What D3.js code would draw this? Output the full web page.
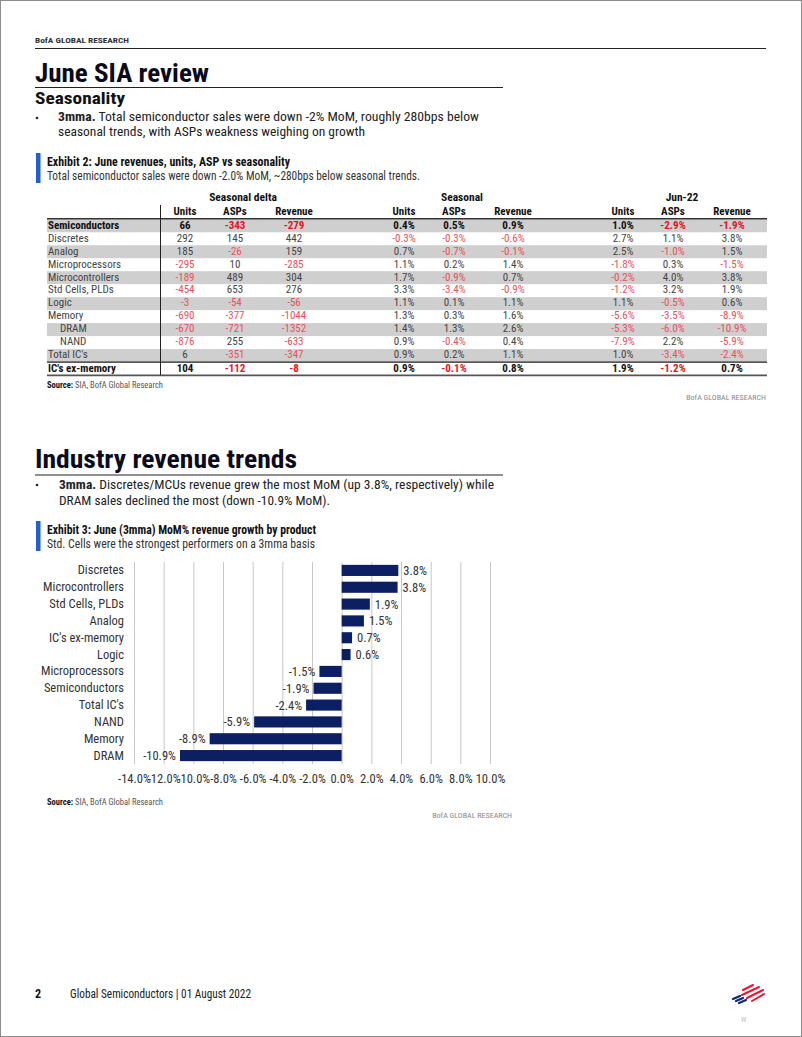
<!DOCTYPE html>
<html><head><meta charset="utf-8">
<script src="https://cdn.jsdelivr.net/npm/d3@7"></script>
<style>
body{margin:0;background:#fff}
svg{display:block}
text{font-family:"Liberation Sans Narrow","Arial Narrow","Roboto Condensed","Liberation Sans",sans-serif}
</style>
</head><body>
<svg id="page" width="802" height="1037"></svg>
<script>
// ---------- DATA ----------
const tableRows = ["Semiconductors","Discretes","Analog","Microprocessors","Microcontrollers","Std Cells, PLDs","Logic","Memory","DRAM","NAND","Total IC's","IC's ex-memory"];
const tableGroups = ["Seasonal delta","Seasonal","Jun-22"];
const tableColumns = ["Units","ASPs","Revenue"];
const deltaUnits   = [66, 292, 185, -295, -189, -454, -3, -690, -670, -876, 6, 104];
const deltaASPs    = [-343, 145, -26, 10, 489, 653, -54, -377, -721, 255, -351, -112];
const deltaRevenue = [-279, 442, 159, -285, 304, 276, -56, -1044, -1352, -633, -347, -8];
const seasUnits    = [0.4, -0.3, 0.7, 1.1, 1.7, 3.3, 1.1, 1.3, 1.4, 0.9, 0.9, 0.9];
const seasASPs     = [0.5, -0.3, -0.7, 0.2, -0.9, -3.4, 0.1, 0.3, 1.3, -0.4, 0.2, -0.1];
const seasRevenue  = [0.9, -0.6, -0.1, 1.4, 0.7, -0.9, 1.1, 1.6, 2.6, 0.4, 1.1, 0.8];
const junUnits     = [1.0, 2.7, 2.5, -1.8, -0.2, -1.2, 1.1, -5.6, -5.3, -7.9, 1.0, 1.9];
const junASPs      = [-2.9, 1.1, -1.0, 0.3, 4.0, 3.2, -0.5, -3.5, -6.0, 2.2, -3.4, -1.2];
const junRevenue   = [-1.9, 3.8, 1.5, -1.5, 3.8, 1.9, 0.6, -8.9, -10.9, -5.9, -2.4, 0.7];

const chartCategories = ["Discretes","Microcontrollers","Std Cells, PLDs","Analog","IC's ex-memory","Logic","Microprocessors","Semiconductors","Total IC's","NAND","Memory","DRAM"];
const chartValues = [3.82, 3.77, 1.9, 1.5, 0.7, 0.6, -1.5, -1.9, -2.4, -5.9, -8.9, -10.9];
const xTickValues = [-14, -12, -10, -8, -6, -4, -2, 0, 2, 4, 6, 8, 10];

// ---------- PAGE ----------
const svg = d3.select("#page");
svg.append("rect").attr("x",0.5).attr("y",0.5).attr("width",801).attr("height",1036)
  .attr("fill","#fff").attr("stroke","#8c8c8c");

function txt(x, y, s, o = {}) {
  const t = svg.append("text").attr("x", x).attr("y", y)
    .attr("font-size", o.size || 12).attr("fill", o.fill || "#222")
    .attr("font-weight", o.weight || "normal")
    .attr("text-anchor", o.anchor || "start");
  if (o.spacing) t.attr("letter-spacing", o.spacing);
  if (Array.isArray(s)) {
    s.forEach(p => t.append("tspan").attr("font-weight", p.w || "normal").attr("fill", p.f || null).text(p.t));
  } else t.text(s);
  if (o.len) t.attr("textLength", o.len).attr("lengthAdjust", "spacingAndGlyphs");
  return t;
}
function line(x1, y1, x2, y2, c, w) {
  svg.append("line").attr("x1",x1).attr("y1",y1).attr("x2",x2).attr("y2",y2)
    .attr("stroke",c).attr("stroke-width",w);
}

// header
txt(35, 43, "BofA GLOBAL RESEARCH", {size: 8, weight: "bold", fill: "#333", len: 94});
line(35, 48.5, 766, 48.5, "#222", 1.2);

txt(35, 82, "June SIA review", {size: 26, weight: "bold", fill: "#0b0b1e", len: 174});
line(35, 87.5, 503, 87.5, "#222", 1.2);
txt(35, 104, "Seasonality", {size: 17, weight: "bold", fill: "#111", len: 90});
svg.append("circle").attr("cx",37).attr("cy",118).attr("r",1.3).attr("fill","#222");
txt(58, 121, [{t:"3mma.", w:"bold"},{t:" Total semiconductor sales were down -2% MoM, roughly 280bps below"}], {size: 13.5, fill:"#222", len: 421});
txt(58, 136, "seasonal trends, with ASPs weakness weighing on growth", {size: 13.5, fill:"#222", len: 307});

// Exhibit 2
svg.append("rect").attr("x",36).attr("y",153).attr("width",4.5).attr("height",30).attr("fill","#1f5fd1");
txt(47, 166, "Exhibit 2: June revenues, units, ASP vs seasonality", {size: 12.5, weight: "bold", fill:"#111", len: 243});
txt(47, 180, "Total semiconductor sales were down -2.0% MoM, ~280bps below seasonal trends.", {size: 12.5, fill:"#333", len: 373});

// ---------- TABLE ----------
const seriesByGroup = [
  [deltaUnits, deltaASPs, deltaRevenue],
  [seasUnits, seasASPs, seasRevenue],
  [junUnits, junASPs, junRevenue]
];
const groupX = d3.scalePoint().domain(tableGroups).range([185, 623]);
const colOffset = d3.scaleOrdinal().domain(tableColumns).range([0, 50, 109]);
const rowY = d3.scaleBand().domain(d3.range(tableRows.length)).range([219.3, 375]).paddingInner(0);
const tLeft = 47, tRight = 767;
const boldRows = new Set([0, tableRows.length - 1]);
const indentRows = new Set([8, 9]);

const tg = svg.append("g");
tg.selectAll("rect.band").data(d3.range(tableRows.length).filter(i => i % 2 === 0 && i < 11))
  .join("rect").attr("x", tLeft).attr("y", i => rowY(i)).attr("width", tRight - tLeft)
  .attr("height", rowY.bandwidth()).attr("fill", "#cfcfcf");

tableGroups.forEach((g, gi) => {
  txt(groupX(g) + colOffset("ASPs") + (gi === 0 ? 8 : gi === 1 ? 8 : 9), 201, g, {size: 11.5, weight: "bold", fill: "#111", anchor: "middle"});
  tableColumns.forEach(c => txt(groupX(g) + colOffset(c), 214.5, c, {size: 11, weight: "bold", fill: "#111", anchor: "middle"}));
});

tableRows.forEach((r, i) => {
  const b = boldRows.has(i);
  const y = rowY(i) + 9.3 + (i === tableRows.length - 1 ? 0.5 : 0);
  txt(indentRows.has(i) ? 60 : 48, y, r, {size: 11, weight: b ? "bold" : "normal", fill: b ? "#111" : "#444"});
  tableGroups.forEach((g, gi) => {
    tableColumns.forEach((c, ci) => {
      const v = seriesByGroup[gi][ci][i];
      const s = gi === 0 ? d3.format("d")(v) : d3.format(".1f")(v) + "%";
      const neg = v < 0;
      const fill = neg ? (b ? "#e3141e" : "#e8515a") : (b ? "#111" : "#444");
      txt(groupX(g) + colOffset(c), y, s.replace("−","-"), {size: 11, weight: b ? "bold" : "normal", fill, anchor: "middle"});
    });
  });
});
line(tLeft, 218.8, tRight, 218.8, "#333", 1.5);
line(tLeft, rowY(11), tRight, rowY(11), "#222", 1.2);
line(tLeft, 375.3, tRight, 375.3, "#555", 1.8);
line(160.5, 205, 160.5, 375, "#222", 1);

txt(47, 388, [{t:"Source:", w:"bold", f:"#111"},{t:"  SIA, BofA Global Research", f:"#555"}], {size: 8.5});
txt(766, 400, "BofA GLOBAL RESEARCH", {size: 8, fill: "#888", anchor: "end"});

// ---------- SECTION 2 ----------
txt(35, 468, "Industry revenue trends", {size: 25, weight: "bold", fill: "#0b0b1e", len: 262});
line(35, 475, 503, 475, "#222", 1.2);
svg.append("circle").attr("cx",37).attr("cy",485).attr("r",1.3).attr("fill","#222");
txt(59, 489, [{t:"3mma.", w:"bold"},{t:" Discretes/MCUs revenue grew the most MoM (up 3.8%, respectively) while"}], {size: 13.5, fill:"#222", len: 435});
txt(59, 505, "DRAM sales declined the most (down -10.9% MoM).", {size: 13.5, fill:"#222", len: 271});

svg.append("rect").attr("x",36).attr("y",521).attr("width",4.5).attr("height",30).attr("fill","#1f5fd1");
txt(47, 534, "Exhibit 3: June (3mma)  MoM% revenue growth by product", {size: 12.5, weight: "bold", fill:"#111", len: 269});
txt(47, 548, "Std. Cells were the strongest performers on a 3mma basis", {size: 12.5, fill:"#333", len: 268});

// ---------- BAR CHART ----------
const x = d3.scaleLinear().domain([-14, 10]).range([134, 490]);
const y = d3.scaleBand().domain(chartCategories).range([562, 764]).paddingInner(0.34).paddingOuter(0.17);
const cg = svg.append("g");

cg.selectAll("line.grid").data(xTickValues).join("line")
  .attr("x1", d => x(d) + 0.5).attr("x2", d => x(d) + 0.5)
  .attr("y1", 562).attr("y2", 764).attr("stroke", "#c6c6c6").attr("stroke-width", 1);

cg.selectAll("rect.bar").data(chartCategories).join("rect")
  .attr("x", (d, i) => x(Math.min(0, chartValues[i])))
  .attr("y", d => y(d))
  .attr("width", (d, i) => Math.abs(x(chartValues[i]) - x(0)))
  .attr("height", y.bandwidth())
  .attr("fill", "#0c1f63");

cg.selectAll("text.val").data(chartCategories).join("text")
  .attr("x", (d, i) => chartValues[i] >= 0 ? x(chartValues[i]) + 5 : x(chartValues[i]) - 4)
  .attr("y", d => y(d) + y.bandwidth() / 2 + 4.5)
  .attr("text-anchor", (d, i) => chartValues[i] >= 0 ? "start" : "end")
  .attr("font-size", 12.5).attr("fill", "#333")
  .text((d, i) => d3.format(".1f")(chartValues[i]).replace("−","-") + "%");

const yAxis = cg.append("g").attr("transform", "translate(134,0)")
  .call(d3.axisLeft(y).tickSize(0).tickPadding(10));
yAxis.select(".domain").remove();
yAxis.selectAll("text").attr("font-size", 12.5).attr("fill", "#333").attr("font-family", null);

const xAxis = cg.append("g").attr("transform", "translate(0,764)")
  .call(d3.axisBottom(x).tickValues(xTickValues).tickSize(0).tickPadding(10)
    .tickFormat(d => d3.format(".1f")(d).replace("−","-") + "%"));
xAxis.select(".domain").remove();
xAxis.selectAll("text").attr("font-size", 12.5).attr("fill", "#333").attr("font-family", null)
  .attr("dy", null).attr("y", 19);

txt(47, 805, [{t:"Source:", w:"bold", f:"#111"},{t:"  SIA, BofA Global Research", f:"#555"}], {size: 8.5});
txt(512, 818, "BofA GLOBAL RESEARCH", {size: 8, fill: "#888", anchor: "end"});

// ---------- FOOTER ----------
txt(35, 998, "2", {size: 12, weight: "bold", fill: "#111"});
txt(70, 998, "Global Semiconductors | 01 August 2022", {size: 12.5, fill: "#222", len: 181});
const logo = svg.append("g").attr("transform", "translate(733,984)");
[[0,15,7,12],[3,17,10,14],[6,19,13,16]].forEach(p =>
  logo.append("line").attr("x1",p[0]).attr("y1",p[1]).attr("x2",p[2]).attr("y2",p[3])
    .attr("stroke","#0e2a78").attr("stroke-width",2.2).attr("stroke-linecap","round"));
[[10,6,20,1],[9,11,26,3],[14,14,30,6],[19,17,31,10]].forEach(p =>
  logo.append("line").attr("x1",p[0]).attr("y1",p[1]).attr("x2",p[2]).attr("y2",p[3])
    .attr("stroke","#e31837").attr("stroke-width",2).attr("stroke-linecap","round"));
txt(741, 1022, "W", {size: 7, fill: "#bbb"});
</script>
</body></html>
